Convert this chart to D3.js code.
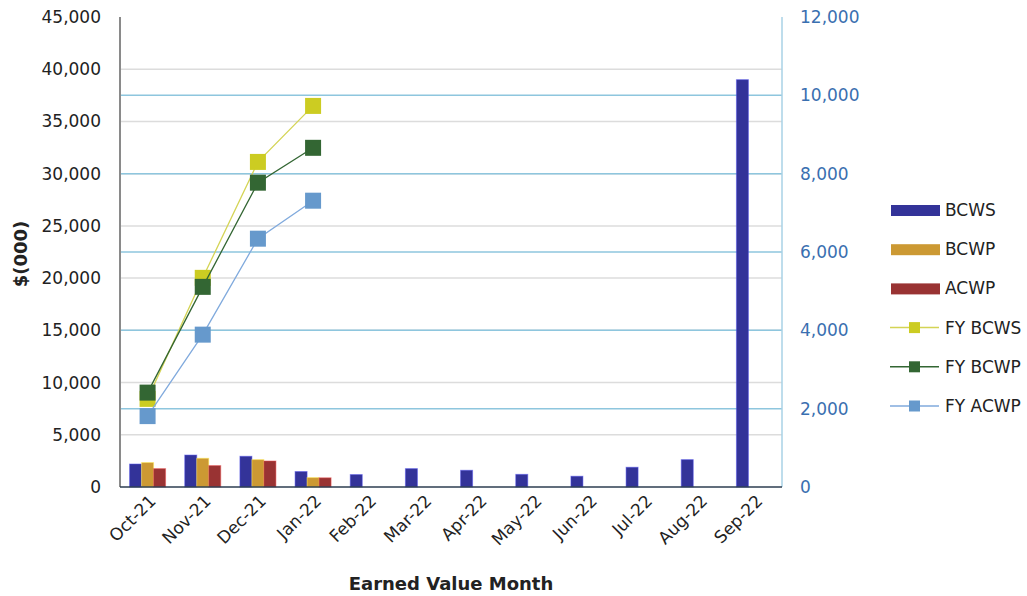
<!DOCTYPE html>
<meta charset="utf-8">
<style>
    body {
        margin: 0;
        padding: 0;
        background: #fff;
    }
    text {
        font-family: "DejaVu Sans", Verdana, sans-serif;
        fill: #222;
    }
</style>

<body>

<script src="https://d3js.org/d3.v7.min.js"></script>

<script>

var months = ["Oct-21", "Nov-21", "Dec-21", "Jan-22", "Feb-22", "Mar-22",
              "Apr-22", "May-22", "Jun-22", "Jul-22", "Aug-22", "Sep-22"];

// monthly values, left axis
var bcws = [2200, 3060, 2940, 1480, 1190, 1760, 1600, 1210, 1030, 1890, 2620, 39000];
var bcwp = [2340, 2750, 2620, 900, null, null, null, null, null, null, null, null];
var acwp = [1760, 2050, 2490, 880, null, null, null, null, null, null, null, null];

// cumulative fiscal year values, right axis
var fyBcws = [2250, 5340, 8300, 9730];
var fyBcwp = [2410, 5110, 7770, 8660];
var fyAcwp = [1810, 3890, 6340, 7310];

var leftTicks = [0, 5000, 10000, 15000, 20000, 25000, 30000, 35000, 40000, 45000];
var rightTicks = [0, 2000, 4000, 6000, 8000, 10000, 12000];

var barSeries = [
  {name: "BCWS", values: bcws, color: "#333399"},
  {name: "BCWP", values: bcwp, color: "#cc9933"},
  {name: "ACWP", values: acwp, color: "#993333"}
];
var lineSeries = [
  {name: "FY BCWS", values: fyBcws, color: "#cccc22", line: "#d4d455"},
  {name: "FY BCWP", values: fyBcwp, color: "#336633", line: "#336633"},
  {name: "FY ACWP", values: fyAcwp, color: "#6699cc", line: "#80aadd"}
];

var width = 1027,
  height = 596;
var pLeft = 120, pRight = 782, pTop = 17, pBottom = 487;
var fs = "17px";

var svg = d3.select("body").append("svg")
    .attr("width", width)
    .attr("height", height);

var x = d3.scaleBand().domain(months).range([pLeft, pRight]);
var x1 = d3.scaleBand().domain(barSeries.map(d => d.name)).range([0, 36]);
var yL = d3.scaleLinear().domain([0, 45000]).range([pBottom, pTop]);
var yR = d3.scaleLinear().domain([0, 12000]).range([pBottom, pTop]);

// grid lines
svg.append("g").selectAll("line")
  .data(leftTicks.slice(1, -1))
  .join("line")
    .attr("x1", pLeft).attr("x2", pRight)
    .attr("y1", d => yL(d)).attr("y2", d => yL(d))
    .attr("stroke", "#dcdcdc").attr("stroke-width", 1.5);

svg.append("g").selectAll("line")
  .data(rightTicks.slice(1, -1))
  .join("line")
    .attr("x1", pLeft).attr("x2", pRight)
    .attr("y1", d => yR(d)).attr("y2", d => yR(d))
    .attr("stroke", "#8ec6de").attr("stroke-width", 1.5);

// bars
var off = (x.bandwidth() - 36) / 2;
barSeries.forEach(s => {
  svg.append("g").selectAll("rect")
    .data(s.values.map((v, i) => ({m: months[i], v: v})).filter(d => d.v != null))
    .join("rect")
      .attr("x", d => x(d.m) + off + x1(s.name))
      .attr("width", x1.bandwidth())
      .attr("y", d => yL(d.v))
      .attr("height", d => yL(0) - yL(d.v))
      .attr("fill", s.color)
      .attr("stroke", d3.color(s.color).brighter(1.2))
      .attr("stroke-opacity", 0.5)
      .attr("stroke-width", 1);
});

// axes lines
svg.append("line")
    .attr("x1", pLeft).attr("x2", pLeft).attr("y1", pTop).attr("y2", pBottom)
    .attr("stroke", "#8a8a8a").attr("stroke-width", 2);
svg.append("line")
    .attr("x1", pRight).attr("x2", pRight).attr("y1", pTop).attr("y2", pBottom)
    .attr("stroke", "#a9d2e6").attr("stroke-width", 1.5);
svg.append("line")
    .attr("x1", pLeft).attr("x2", pRight).attr("y1", pBottom).attr("y2", pBottom)
    .attr("stroke", "#2c3e50").attr("stroke-width", 1.5);

// lines + markers
var cx = i => x(months[i]) + x.bandwidth() / 2;
lineSeries.forEach(s => {
  var line = d3.line().x((d, i) => cx(i)).y(d => yR(d));
  svg.append("path")
      .attr("d", line(s.values))
      .attr("fill", "none")
      .attr("stroke", s.line)
      .attr("stroke-width", 1.3);
  svg.append("g").selectAll("rect")
    .data(s.values)
    .join("rect")
      .attr("x", (d, i) => cx(i) - 8)
      .attr("y", d => yR(d) - 8)
      .attr("width", 16).attr("height", 16)
      .attr("fill", s.color);
});

// left tick labels
svg.append("g").selectAll("text")
  .data(leftTicks)
  .join("text")
    .attr("x", 101)
    .attr("y", d => yL(d))
    .attr("dy", "0.35em")
    .attr("text-anchor", "end")
    .style("font-size", fs)
    .text(d3.format(","));

// right tick labels
svg.append("g").selectAll("text")
  .data(rightTicks)
  .join("text")
    .attr("x", 800)
    .attr("y", d => yR(d))
    .attr("dy", "0.35em")
    .style("font-size", fs)
    .style("fill", "#3a6fb0")
    .text(d3.format(","));

// x tick labels
svg.append("g").selectAll("text")
  .data(months)
  .join("text")
    .attr("transform", d => "translate(" + (x(d) + x.bandwidth() / 2 + 5) + "," + (pBottom + 11) + ") rotate(-45)")
    .attr("text-anchor", "end")
    .attr("dy", "0.35em")
    .style("font-size", fs)
    .text(d => d);

// axis titles
svg.append("text")
    .attr("transform", "translate(21," + ((pTop + pBottom) / 2 + 2) + ") rotate(-90)")
    .attr("text-anchor", "middle")
    .attr("dy", "0.35em")
    .style("font-size", "18px")
    .style("font-weight", "bold")
    .text("$(000)");

svg.append("text")
    .attr("x", 451)
    .attr("y", 584)
    .attr("text-anchor", "middle")
    .attr("dy", "0.35em")
    .style("font-size", "18px")
    .style("font-weight", "bold")
    .text("Earned Value Month");

// legend
var legend = svg.append("g");
var rowY = d3.scalePoint().domain(barSeries.concat(lineSeries).map(d => d.name)).range([210, 406]);
barSeries.forEach(s => {
  legend.append("rect")
      .attr("x", 891).attr("y", rowY(s.name) - 5)
      .attr("width", 49).attr("height", 11)
      .attr("fill", s.color);
});
lineSeries.forEach(s => {
  legend.append("line")
      .attr("x1", 890).attr("x2", 939)
      .attr("y1", rowY(s.name)).attr("y2", rowY(s.name))
      .attr("stroke", s.line).attr("stroke-width", 1.5);
  legend.append("rect")
      .attr("x", 909).attr("y", rowY(s.name) - 5.5)
      .attr("width", 11).attr("height", 11)
      .attr("fill", s.color);
});
legend.selectAll("text")
  .data(barSeries.concat(lineSeries))
  .join("text")
    .attr("x", 945)
    .attr("y", d => rowY(d.name))
    .attr("dy", "0.35em")
    .style("font-size", fs)
    .text(d => d.name);

</script>
